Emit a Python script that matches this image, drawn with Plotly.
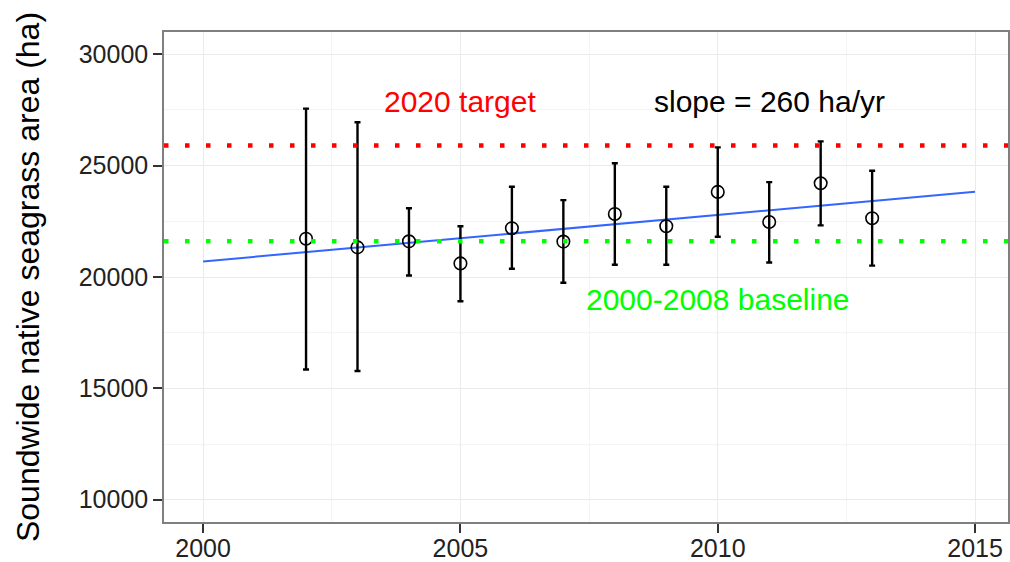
import plotly.graph_objects as go

# Annual soundwide native seagrass area estimates with uncertainty bounds
years = [2002, 2003, 2004, 2005, 2006, 2007, 2008, 2009, 2010, 2011, 2012, 2013]
area = [21720, 21330, 21600, 20610, 22190, 21590, 22830, 22280, 23820, 22470, 24210, 22640]
area_low = [15850, 15780, 20070, 18910, 20370, 19740, 20550, 20550, 21810, 20650, 22320, 20510]
area_high = [27560, 26950, 23090, 22280, 24050, 23450, 25110, 24050, 25820, 24260, 26090, 24770]

# Linear trend endpoints
trend_years = [2000, 2015]
trend_area = [20700, 23830]

# Reference levels
target_2020 = 25900
baseline_2000_2008 = 21600

# Axis ticks
x_ticks = [2000, 2005, 2010, 2015]
y_ticks = [10000, 15000, 20000, 25000, 30000]

FONT = "Arial, Liberation Sans, sans-serif"

err_plus = [h - v for h, v in zip(area_high, area)]
err_minus = [v - l for v, l in zip(area, area_low)]

fig = go.Figure()

fig.add_trace(go.Scatter(
    x=trend_years, y=trend_area, mode="lines",
    line=dict(color="#3366ff", width=2),
    hoverinfo="skip", showlegend=False,
))

fig.add_trace(go.Scatter(
    x=years, y=area, mode="markers",
    marker=dict(symbol="circle-open", size=12.5, color="black",
                line=dict(color="black", width=1.6)),
    error_y=dict(type="data", symmetric=False, array=err_plus,
                 arrayminus=err_minus, color="black", thickness=2.4, width=3),
    showlegend=False,
))

for level, colour in [(target_2020, "#ff0000"), (baseline_2000_2008, "#00ff00")]:
    fig.add_shape(type="line", xref="x domain", yref="y",
                  x0=0, x1=1, y0=level, y1=level,
                  line=dict(color=colour, width=4.5, dash="4.5px,16.5px"),
                  layer="above")

fig.add_annotation(x=2005, y=27900, text="2020 target", showarrow=False,
                   font=dict(family=FONT, size=30, color="#ff0000"))
fig.add_annotation(x=2011, y=27900, text="slope = 260 ha/yr", showarrow=False,
                   font=dict(family=FONT, size=30, color="black"))
fig.add_annotation(x=2010, y=19000, text="2000-2008 baseline", showarrow=False,
                   font=dict(family=FONT, size=30, color="#00ff00"))

axis_common = dict(
    showline=True, mirror=True, linecolor="#7f7f7f", linewidth=1.5,
    ticks="outside", ticklen=9, tickwidth=2, tickcolor="#333333",
    showgrid=True, gridcolor="#ebebeb", gridwidth=1,
    tickfont=dict(family=FONT, size=25, color="#222222"),
    zeroline=False,
)

fig.update_xaxes(
    range=[1999.24, 2015.64], tickvals=x_ticks, tickformat="d",
    ticklabelstandoff=-6,
    minor=dict(tickvals=[2002.5, 2007.5, 2012.5], showgrid=True,
               gridcolor="#f4f4f4", gridwidth=1, ticks=""),
    **axis_common,
)
fig.update_yaxes(
    range=[9000, 31000], tickvals=y_ticks, tickformat="d",
    minor=dict(tickvals=[12500, 17500, 22500, 27500], showgrid=True,
               gridcolor="#f4f4f4", gridwidth=1, ticks=""),
    title=dict(text="Soundwide native seagrass area (ha)",
               font=dict(family=FONT, size=32, color="black"), standoff=30),
    **axis_common,
)

fig.update_layout(
    width=1010, height=562,
    margin=dict(l=164, r=2, t=32, b=40, autoexpand=False),
    plot_bgcolor="white", paper_bgcolor="white",
)

fig.write_html("out.html")
